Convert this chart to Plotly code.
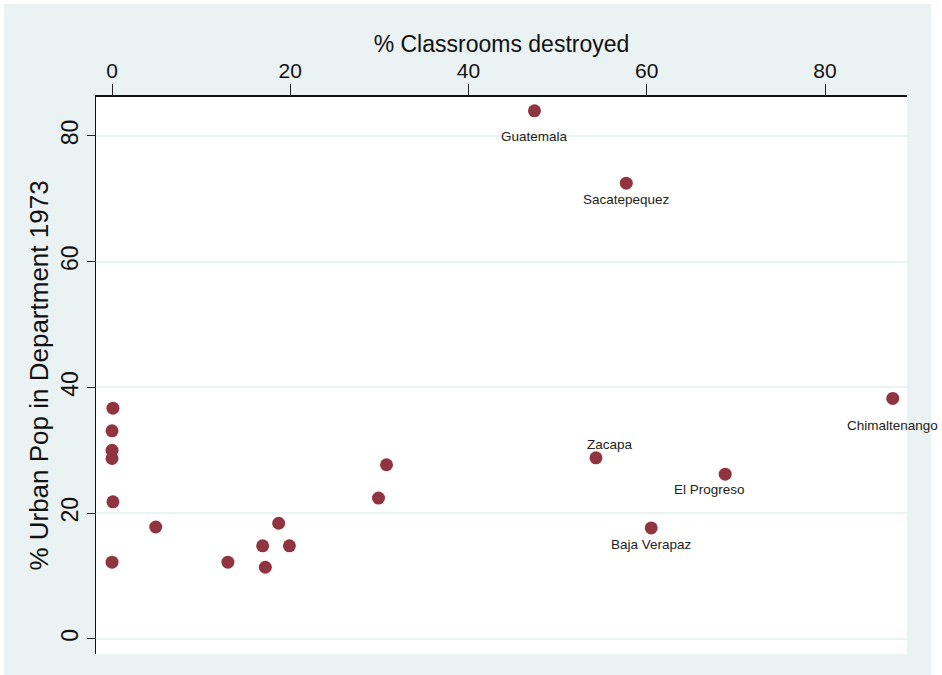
import plotly.graph_objects as go

# Departments: % of classrooms destroyed vs % urban population (1973)
departments = ["Guatemala", "Sacatepequez", "Chimaltenango", "Zacapa", "El Progreso",
               "Baja Verapaz", "", "", "", "", "", "", "", "", "", "", "", "", "", ""]
pct_classrooms_destroyed = [47.4, 57.7, 87.6, 54.3, 68.8, 60.5,
                            0.1, 0.0, 0.0, 0.0, 0.1, 0.0,
                            4.9, 13.0, 16.9, 17.2, 18.7, 19.9, 29.9, 30.8]
pct_urban_pop_1973 = [84.0, 72.5, 38.25, 28.8, 26.2, 17.65,
                      36.7, 33.1, 30.0, 28.7, 21.8, 12.2,
                      17.8, 12.2, 14.8, 11.4, 18.4, 14.8, 22.4, 27.7]
x_ticks = [0, 20, 40, 60, 80]
y_ticks = [0, 20, 40, 60, 80]

# marker-label offsets in pixels (dx, dy), keyed by department
label_offsets = {
    "Guatemala": (0, -26),
    "Sacatepequez": (0, -16),
    "Chimaltenango": (0, -27),
    "Zacapa": (14, 13),
    "El Progreso": (-16, -15),
    "Baja Verapaz": (0, -17),
}

BG = "#eaf2f3"
MARKER = "#903540"
FONT = "Liberation Sans, Arial, sans-serif"

fig = go.Figure()
fig.add_trace(go.Scatter(
    x=pct_classrooms_destroyed,
    y=pct_urban_pop_1973,
    mode="markers",
    marker=dict(size=13, color=MARKER, line=dict(width=0)),
    hovertext=departments,
    showlegend=False,
    cliponaxis=False,
))

annotations = []
for name, xv, yv in zip(departments, pct_classrooms_destroyed, pct_urban_pop_1973):
    if not name:
        continue
    dx, dy = label_offsets[name]
    annotations.append(dict(
        x=xv, y=yv, xref="x", yref="y", text=name, showarrow=False,
        xshift=dx, yshift=dy, xanchor="center", yanchor="middle",
        font=dict(family=FONT, size=13.5, color="#222222"),
    ))

shapes = [
    # light graph region behind everything
    dict(type="rect", xref="paper", yref="paper", x0=-0.1134, x1=1.0296,
         y0=-0.04, y1=1.167, fillcolor=BG, line=dict(width=0), layer="below"),
    # white plot region
    dict(type="rect", xref="paper", yref="paper", x0=0, x1=1, y0=0, y1=1,
         fillcolor="white", line=dict(width=0), layer="below"),
]

fig.update_layout(
    width=942, height=675,
    margin=dict(l=96, r=35, t=97, b=21),
    paper_bgcolor="white",
    plot_bgcolor="rgba(0,0,0,0)",
    font=dict(family=FONT, color="#111111"),
    shapes=shapes,
    annotations=annotations,
    xaxis=dict(
        side="top",
        range=[-1.8, 89.2],
        tickvals=x_ticks,
        ticktext=[str(v) for v in x_ticks],
        tickfont=dict(size=21, family=FONT, color="#111111"),
        ticks="outside", ticklen=11, tickwidth=1, tickcolor="#222222",
        ticklabelstandoff=-2,
        showline=True, linecolor="#111111", linewidth=1.5,
        showgrid=False, zeroline=False,
        title=dict(text="% Classrooms destroyed", standoff=0,
                   font=dict(size=23, family=FONT, color="#111111")),
    ),
    yaxis=dict(
        range=[-2.4, 86.2],
        tickvals=y_ticks,
        ticktext=[str(v) for v in y_ticks],
        tickangle=-90,
        tickfont=dict(size=23, family=FONT, color="#111111"),
        ticks="outside", ticklen=8, tickwidth=1, tickcolor="#222222",
        showline=True, linecolor="#111111", linewidth=1.2,
        showgrid=True, gridcolor=BG, gridwidth=2,
        zeroline=False,
        title=dict(text="% Urban Pop in Department 1973", standoff=0,
                   font=dict(size=26, family=FONT, color="#111111")),
    ),
)

fig.write_html("out.html")
